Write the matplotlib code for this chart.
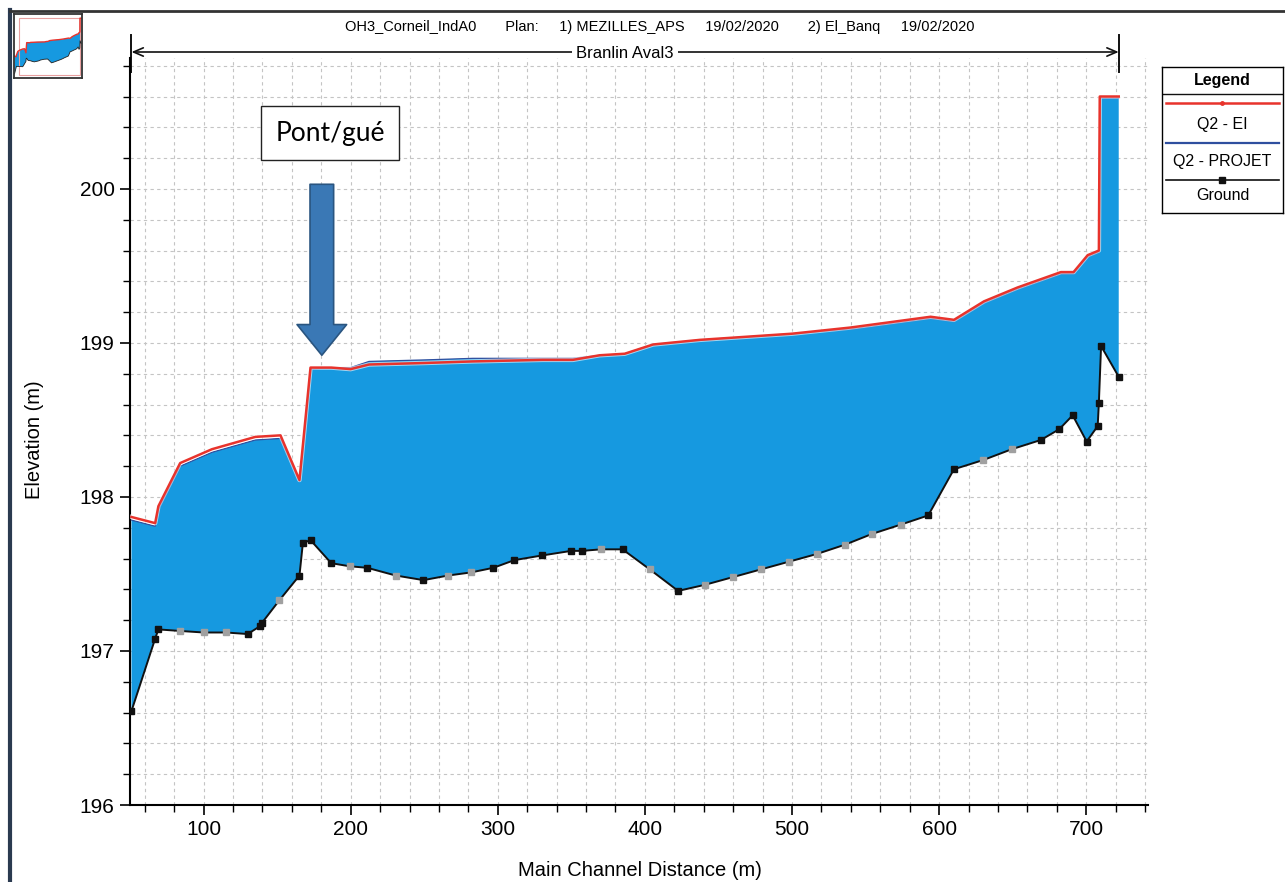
import matplotlib.pyplot as plt
import matplotlib.transforms as mtransforms
from matplotlib.lines import Line2D
from matplotlib.patches import Rectangle
from matplotlib.ticker import MultipleLocator

plt.rcParams['font.family'] = ['Liberation Sans', 'DejaVu Sans']

# ---- data ----
ground_x = [51.0, 67.1, 69.3, 84.1, 100.0, 115.2, 130.0, 138.2, 139.5, 151.6,
            165.2, 167.5, 172.7, 186.8, 199.3, 211.3, 230.6, 249.5, 266.3, 281.8,
            297.0, 311.3, 330.0, 350.0, 357.2, 370.4, 384.8, 403.3, 422.6, 441.0,
            460.0, 479.0, 498.0, 517.0, 536.0, 554.4, 573.8, 592.6, 610.1, 630.1,
            649.4, 669.2, 681.7, 690.8, 700.3, 707.8, 708.6, 710.1, 722.1]
ground_z = [196.61, 197.08, 197.14, 197.13, 197.12, 197.12, 197.11, 197.16, 197.18, 197.33,
            197.49, 197.70, 197.72, 197.57, 197.55, 197.54, 197.49, 197.46, 197.49, 197.51,
            197.54, 197.59, 197.62, 197.65, 197.65, 197.66, 197.66, 197.53, 197.39, 197.43,
            197.48, 197.53, 197.58, 197.63, 197.69, 197.76, 197.82, 197.88, 198.18, 198.24,
            198.31, 198.37, 198.44, 198.53, 198.36, 198.46, 198.61, 198.98, 198.78]
# 1 = interpolated cross section (grey marker)
ground_interp = [0, 0, 0, 1, 1, 1, 0, 0, 0, 1,
                 0, 0, 0, 0, 1, 0, 1, 0, 1, 1,
                 0, 0, 0, 0, 0, 1, 0, 1, 0, 1,
                 1, 1, 1, 1, 1, 1, 1, 0, 0, 1,
                 1, 0, 0, 0, 0, 0, 0, 0, 0]

ws_x = [51.0, 67.1, 69.3, 84.1, 105.7, 135.2, 152.3, 165.2, 172.7, 186.8,
        200.0, 212.5, 251.0, 283.0, 330.6, 351.0, 369.3, 386.3, 405.6, 437.4,
        500.0, 539.7, 594.2, 610.1, 630.5, 653.3, 682.8, 691.4, 701.0, 708.6,
        709.2, 722.1]
ws_ei = [197.87, 197.83, 197.94, 198.22, 198.31, 198.39, 198.40, 198.11, 198.84, 198.84,
         198.83, 198.86, 198.87, 198.88, 198.89, 198.89, 198.92, 198.93, 198.99, 199.02,
         199.06, 199.10, 199.17, 199.15, 199.27, 199.36, 199.46, 199.46, 199.57, 199.60,
         200.60, 200.60]
ws_projet = [197.85, 197.81, 197.92, 198.20, 198.29, 198.37, 198.38, 198.10, 198.83, 198.84,
             198.84, 198.88, 198.89, 198.90, 198.90, 198.90, 198.92, 198.93, 198.99, 199.02,
             199.06, 199.09, 199.16, 199.14, 199.26, 199.35, 199.45, 199.45, 199.56, 199.59,
             200.59, 200.59]

legend_labels = ["Q2 - EI", "Q2 - PROJET", "Ground"]
title_txt = ("OH3_Corneil_IndA0       Plan:     1) MEZILLES_APS     19/02/2020"
             "       2) El_Banq     19/02/2020")
reach_name = "Branlin Aval3"

W, H = 1285, 882
c_fill = '#1699e0'
c_ei = '#e8332c'
c_proj = '#2f4f9f'

fig = plt.figure(figsize=(W / 100, H / 100), dpi=100)
ax = fig.add_axes([130 / W, 1 - 805 / H, (1148 - 130) / W, (805 - 58) / H])

# water between water surface and ground
ax.fill(ws_x + ground_x[::-1], ws_projet + ground_z[::-1], color=c_fill, lw=0, zorder=2)
ax.plot(ws_x, ws_projet, color=c_proj, lw=0.9, zorder=3)
ax.plot(ws_x, ws_ei, color='white', lw=3.2, alpha=0.6, zorder=3.5)
ax.plot(ws_x, ws_ei, color=c_ei, lw=1.8, zorder=4)
ax.plot(ground_x, ground_z, color='#111111', lw=1.4, zorder=5)
gx_b = [x for x, f in zip(ground_x, ground_interp) if f == 0]
gz_b = [z for z, f in zip(ground_z, ground_interp) if f == 0]
gx_g = [x for x, f in zip(ground_x, ground_interp) if f == 1]
gz_g = [z for z, f in zip(ground_z, ground_interp) if f == 1]
ax.plot(gx_b, gz_b, 's', color='#111111', ms=4.5, zorder=6)
ax.plot(gx_g, gz_g, 's', color='#a0a0a0', ms=4.5, zorder=6)

ax.set_xlim(50, 742)
ax.set_ylim(196, 200.85)
ax.xaxis.set_major_locator(MultipleLocator(100))
ax.xaxis.set_minor_locator(MultipleLocator(20))
ax.yaxis.set_major_locator(MultipleLocator(1))
ax.yaxis.set_minor_locator(MultipleLocator(0.2))
ax.grid(which='both', color='#c4c4c4', ls=(0, (3, 3)), lw=0.8, zorder=0)
ax.set_axisbelow(True)
ax.spines['top'].set_visible(False)
ax.spines['right'].set_visible(False)
ax.spines['left'].set_linewidth(1.5)
ax.spines['bottom'].set_linewidth(1.5)
ax.tick_params(which='major', length=7, width=1.2, direction='out', labelsize=15, pad=4)
ax.tick_params(which='minor', length=5, width=1.0, direction='out')
ax.yaxis.set_major_formatter(plt.FuncFormatter(lambda v, p: f"{v:.0f}"))

fig.text(640 / W, 1 - 870 / H, 'Main Channel Distance (m)', ha='center', va='center', fontsize=14.5)
fig.text(35 / W, 1 - 440 / H, 'Elevation (m)', ha='center', va='center', rotation=90, fontsize=14.5)
fig.text(660 / W, 1 - 27 / H, title_txt, ha='center', va='center', fontsize=10.5)

# reach marker
trans = mtransforms.blended_transform_factory(ax.transData, fig.transFigure)
x0, x1 = ground_x[0], ground_x[-1]
for xr in (x0, x1):
    ax.plot([xr, xr], [1 - 35 / H, 1 - 72 / H], color='#111111', lw=1.4, transform=trans, clip_on=False)
ax.annotate('', xy=(x0, 1 - 52 / H), xytext=(x1, 1 - 52 / H), xycoords=trans, textcoords=trans,
            arrowprops=dict(arrowstyle='<->,head_length=0.7,head_width=0.3', color='#111111', lw=1.2,
                            shrinkA=0, shrinkB=0))
ax.text((x0 + x1) / 2, 1 - 54 / H, reach_name, transform=trans, ha='center', va='center', fontsize=12,
        bbox=dict(fc='white', ec='none', pad=3))

# Pont/gué annotation
ax.annotate('', xy=(180.4, 198.92), xytext=(180.4, 200.03),
            arrowprops=dict(arrowstyle='simple,head_length=1.3,head_width=2.1,tail_width=1.0',
                            fc='#3a78b5', ec='#2a5580', lw=1.2, shrinkA=0, shrinkB=0,
                            mutation_scale=17), zorder=7)
fig.text(330 / W, 1 - 133 / H, 'Pont/gué', ha='center', va='center', fontsize=19,
         family=['Lato', 'DejaVu Sans'],
         bbox=dict(boxstyle='square,pad=0.55', fc='white', ec='#222222', lw=1.0))

# legend box
lax = fig.add_axes([1162 / W, 1 - 213 / H, 121 / W, 146 / H])
lax.set_xlim(0, 121)
lax.set_ylim(146, 0)
lax.set_xticks([])
lax.set_yticks([])
for s in lax.spines.values():
    s.set_linewidth(1.0)
lax.text(60.5, 13, 'Legend', ha='center', va='center', fontsize=11.5, fontweight='bold')
lax.plot([0, 121], [27, 27], color='#111111', lw=1.0)
lax.plot([4, 117], [36, 36], color=c_ei, lw=1.8)
lax.plot([60], [36], 'o', color=c_ei, ms=2.5)
lax.plot([4, 117], [76, 76], color=c_proj, lw=1.6)
lax.plot([4, 117], [113, 113], color='#111111', lw=1.2)
lax.plot([60], [113], 's', color='#111111', ms=4)
for yy, lab in zip([57, 95, 129], legend_labels):
    lax.text(60.5, yy, lab, ha='center', va='center', fontsize=11.5)

# thumbnail
tax = fig.add_axes([14 / W, 1 - 78 / H, 68 / W, 64 / H])
tax.fill(ws_x + ground_x[::-1], ws_projet + ground_z[::-1], color=c_fill, lw=0)
tax.plot(ws_x, ws_ei, color=c_ei, lw=1.0)
tax.plot(ground_x, ground_z, color='#222222', lw=0.6)
tax.set_xlim(45, 730)
tax.set_ylim(196.3, 200.9)
tax.set_xticks([])
tax.set_yticks([])
for s in tax.spines.values():
    s.set_linewidth(1.3)
    s.set_color('#333333')
tax.add_patch(Rectangle((0.07, 0.04), 0.9, 0.9, transform=tax.transAxes, fill=False,
                        ec='#e8a0a0', lw=0.8))

# window frame
fig.add_artist(Line2D([10 / W, 10 / W], [0, 1 - 10 / H], color='#2a3a50', lw=3))
fig.add_artist(Line2D([10 / W, 1], [1 - 11 / H, 1 - 11 / H], color='#333333', lw=2))

fig.savefig('out.png', dpi=100)
